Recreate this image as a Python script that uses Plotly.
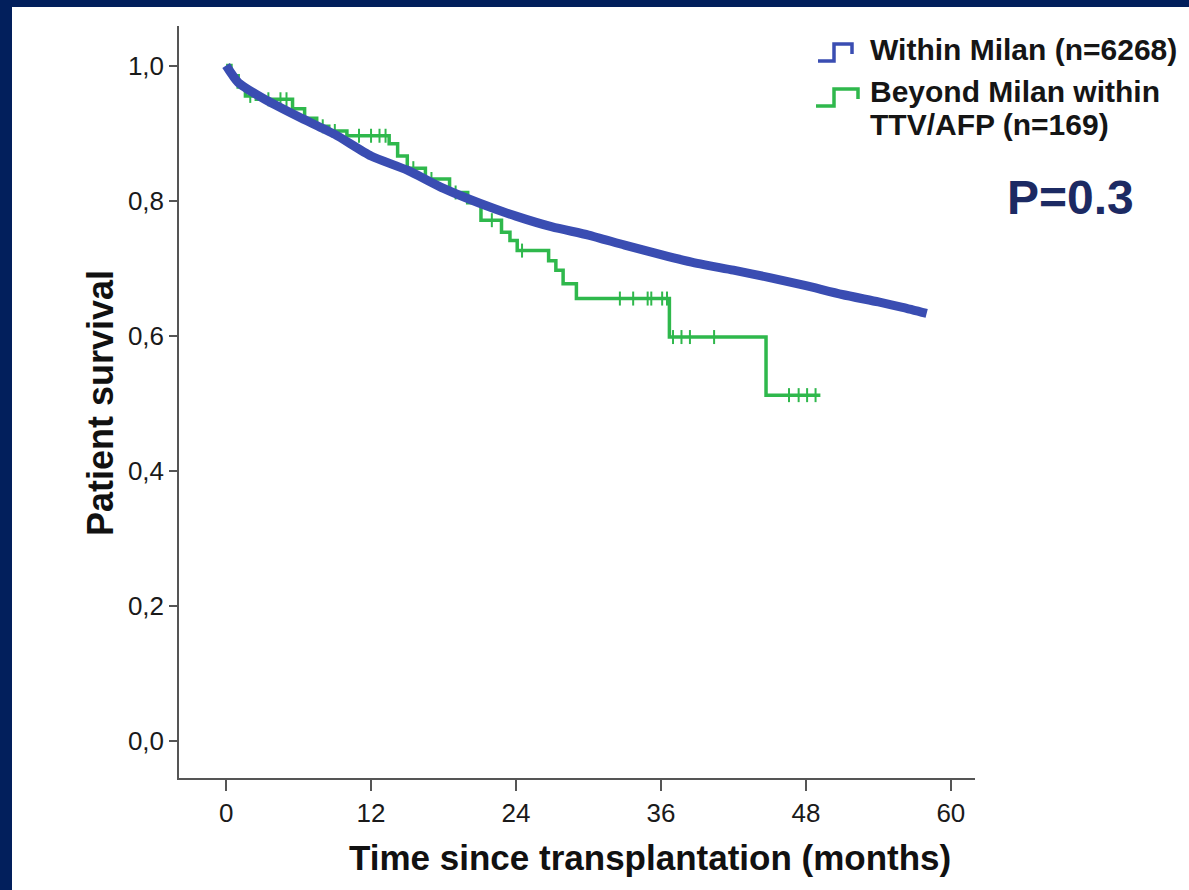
import plotly.graph_objects as go

# ---------------- data ----------------
within_t = [0, 1, 3, 6, 9, 12, 15, 18, 21, 24, 27, 30, 33, 36, 39, 42, 45, 48, 51, 54, 56, 58]
within_s = [1.0, 0.975, 0.952, 0.924, 0.898, 0.866, 0.845, 0.818, 0.796, 0.777, 0.761, 0.749,
            0.734, 0.720, 0.707, 0.697, 0.686, 0.674, 0.661, 0.650, 0.642, 0.633]

beyond_t = [0, 0.4, 1.0, 1.6, 2.5, 5.5, 6.5, 7.5, 8.5, 10.0, 13.5, 14.2, 15.0, 16.5, 18.5, 20.0,
            21.1, 22.8, 23.5, 24.1, 26.7, 27.3, 27.9, 29.0, 36.7, 44.7, 49.2]
beyond_s = [1.0, 0.985, 0.968, 0.955, 0.950, 0.936, 0.922, 0.910, 0.903, 0.896, 0.884, 0.866,
            0.848, 0.832, 0.812, 0.797, 0.771, 0.753, 0.741, 0.726, 0.711, 0.697, 0.677, 0.655,
            0.598, 0.512, 0.512]

beyond_cens_t = [2.0, 3.5, 4.5, 5.0, 8.0, 9.0, 11.0, 12.0, 12.7, 13.2, 15.5, 17.0, 19.0, 22.0,
                 24.5, 32.6, 33.7, 34.9, 35.2, 36.1, 36.5, 37.0, 37.7, 38.4, 40.4, 46.6, 47.4,
                 48.1, 48.8]

x_ticks = [0, 12, 24, 36, 48, 60]
y_ticks = [0.0, 0.2, 0.4, 0.6, 0.8, 1.0]
y_tick_text = ["0,0", "0,2", "0,4", "0,6", "0,8", "1,0"]

legend_labels = ["Within Milan (n=6268)", "Beyond Milan within", "TTV/AFP (n=169)"]
p_text = "P=0.3"
x_title = "Time since transplantation (months)"
y_title = "Patient survival"

BLUE = "#3a4db2"
GREEN = "#2fb84c"
NAVY = "#021f5c"
FONT = "Liberation Sans, Arial, sans-serif"


def step_value(t, ts, ss):
    v = ss[0]
    for tt, s in zip(ts, ss):
        if tt <= t:
            v = s
    return v


beyond_cens_s = [step_value(t, beyond_t, beyond_s) for t in beyond_cens_t]

# ---------------- layout geometry (pixels) ----------------
W, H = 1189, 890
L, R, T, B = 179, 975, 26, 778


def px(x):
    return (x - L) / (R - L)


def py(y):
    return (B - y) / (B - T)


fig = go.Figure()

fig.add_trace(go.Scatter(
    x=beyond_t, y=beyond_s, mode="lines", line=dict(color=GREEN, width=3.5, shape="hv"),
    showlegend=False, hoverinfo="skip"))
fig.add_trace(go.Scatter(
    x=beyond_cens_t, y=beyond_cens_s, mode="markers",
    marker=dict(symbol="line-ns-open", size=10, color=GREEN, line=dict(color=GREEN, width=2)),
    showlegend=False, hoverinfo="skip"))
fig.add_trace(go.Scatter(
    x=within_t, y=within_s, mode="lines", line=dict(color=BLUE, width=9, shape="spline", smoothing=0.6),
    showlegend=False, hoverinfo="skip"))

shapes = [
    # white page on navy frame
    dict(type="rect", xref="paper", yref="paper", x0=px(12), x1=px(W + 5), y0=py(7), y1=py(H + 5),
         fillcolor="white", line=dict(width=0), layer="below"),
    # legend icons
    dict(type="path", xref="paper", yref="paper",
         path=f"M {px(818)} {py(61)} L {px(834)} {py(61)} L {px(834)} {py(44)} L {px(852)} {py(44)} L {px(852)} {py(54)}",
         line=dict(color=BLUE, width=3.5)),
    dict(type="path", xref="paper", yref="paper",
         path=f"M {px(816)} {py(106)} L {px(834)} {py(106)} L {px(834)} {py(89)} L {px(858)} {py(89)} L {px(858)} {py(99)}",
         line=dict(color=GREEN, width=3.5)),
]

annotations = [
    dict(text=f"<b>{legend_labels[0]}</b>", x=px(868), y=py(50), xref="paper", yref="paper",
         xanchor="left", yanchor="middle", showarrow=False, font=dict(family=FONT, size=30, color="#151515")),
    dict(text=f"<b>{legend_labels[1]}</b>", x=px(868), y=py(91), xref="paper", yref="paper",
         xanchor="left", yanchor="middle", showarrow=False, font=dict(family=FONT, size=30, color="#151515")),
    dict(text=f"<b>{legend_labels[2]}</b>", x=px(868), y=py(124), xref="paper", yref="paper",
         xanchor="left", yanchor="middle", showarrow=False, font=dict(family=FONT, size=30, color="#151515")),
    dict(text=f"<b>{p_text}</b>", x=px(1070), y=py(197), xref="paper", yref="paper",
         xanchor="center", yanchor="middle", showarrow=False, font=dict(family=FONT, size=48, color="#1c2a63")),
    dict(text=f"<b>{x_title}</b>", x=px(650), y=py(857), xref="paper", yref="paper",
         xanchor="center", yanchor="middle", showarrow=False, font=dict(family=FONT, size=35, color="#111")),
    dict(text=f"<b>{y_title}</b>", x=px(100), y=py(403), xref="paper", yref="paper",
         xanchor="center", yanchor="middle", textangle=-90, showarrow=False,
         font=dict(family=FONT, size=36, color="#111")),
]

y_top = 1 + (65.5 - T) / 675.5
y_bot = -(B - 741) / 675.5

fig.update_layout(
    width=W, height=H,
    margin=dict(l=L, r=W - R, t=T, b=H - B, pad=0),
    paper_bgcolor=NAVY, plot_bgcolor="white",
    shapes=shapes, annotations=annotations,
    xaxis=dict(range=[-3.9, 62.0], tickvals=x_ticks, ticktext=[str(v) for v in x_ticks],
               ticks="outside", ticklen=11, tickwidth=1.5, tickcolor="#555",
               showline=True, linecolor="#555", linewidth=1.5, showgrid=False, zeroline=False,
               tickfont=dict(family=FONT, size=26, color="#1a1a1a")),
    yaxis=dict(range=[y_bot, y_top], tickvals=y_ticks, ticktext=y_tick_text,
               ticks="outside", ticklen=8, tickwidth=1.5, tickcolor="#555",
               showline=True, linecolor="#555", linewidth=1.5, showgrid=False, zeroline=False,
               tickfont=dict(family=FONT, size=26, color="#1a1a1a")),
    showlegend=False,
)

fig.write_html("out.html")
